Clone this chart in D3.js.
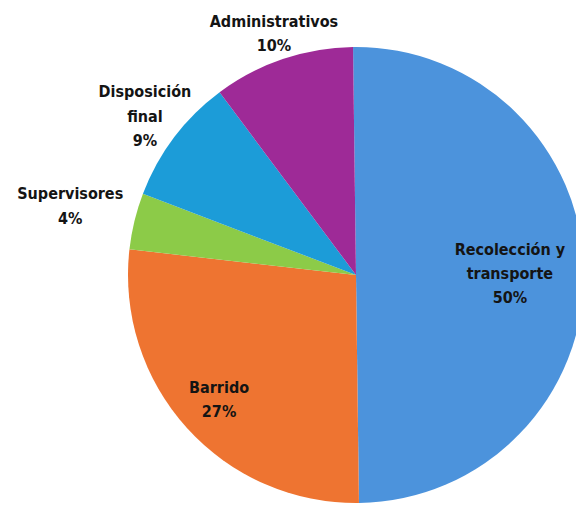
<!DOCTYPE html>
<html><head><meta charset="utf-8">
<script src="https://cdn.jsdelivr.net/npm/d3@7"></script>
<style>html,body{margin:0;padding:0;background:#fff;}svg{display:block;}</style>
</head><body>
<script>
const categories = ["Recolección y transporte", "Barrido", "Supervisores", "Disposición final", "Administrativos"];
const values = [50, 27, 4, 9, 10];
const labelLines = [["Recolección y", "transporte", "50%"], ["Barrido", "27%"], ["Supervisores", "4%"], ["Disposición", "final", "9%"], ["Administrativos", "10%"]];
const colors = ["#4C93DC", "#EE7431", "#8CCB48", "#1C9CD8", "#9E2A97"];
const labelRadiusFactor = [0.675, 0.81, 1.29, 1.16, 1.12];

const W = 576, H = 506, cx = 356, cy = 275, R = 228;
const rot = -0.013;
const svg = d3.select("body").append("svg").attr("width", W).attr("height", H);
const g = svg.append("g").attr("transform", `translate(${cx},${cy})`);
const data = categories.map((c, i) => ({c, v: values[i], i}));
const pie = d3.pie().value(d => d.v).sort(null).startAngle(rot).endAngle(rot + 2 * Math.PI);
const arcs = pie(data);
const arc = d3.arc().innerRadius(0).outerRadius(R);
g.selectAll("path").data(arcs).join("path").attr("d", arc).attr("fill", d => colors[d.data.i]);

const lh = 24.5;
arcs.forEach(a => {
  const i = a.data.i;
  const lr = R * labelRadiusFactor[i];
  const [x, y] = d3.arc().innerRadius(lr).outerRadius(lr).centroid(a);
  const lines = labelLines[i];
  const t = g.append("text").attr("text-anchor", "middle")
    .attr("font-family", "'DejaVu Sans Condensed', 'DejaVu Sans', sans-serif")
    .attr("font-weight", "bold").attr("font-size", 16).attr("fill", "#141414");
  lines.forEach((l, k) => {
    t.append("tspan").attr("x", x).attr("y", y + (k - (lines.length - 1) / 2) * lh + 6).text(l);
  });
});
</script>
</body></html>
